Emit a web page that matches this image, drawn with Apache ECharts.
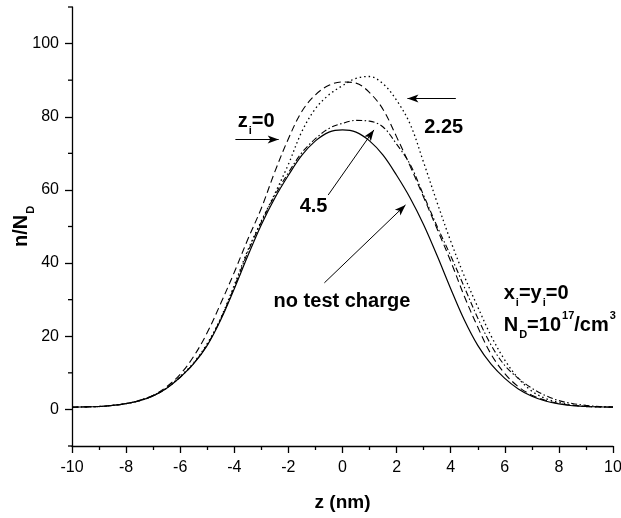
<!DOCTYPE html>
<html><head><meta charset="utf-8">
<script src="https://cdn.jsdelivr.net/npm/echarts@6/dist/echarts.min.js"></script>
<style>html,body{margin:0;padding:0;background:#fff}#c{width:621px;height:518px}</style>
</head><body><div id="c"></div>
<script>
// ---- data ----
const zValues = [-10,-9.5,-9,-8.5,-8,-7.5,-7,-6.5,-6,-5.5,-5,-4.5,-4,-3.5,-3,-2.5,-2,-1.5,-1,-0.5,0,0.5,1,1.5,2,2.5,3,3.5,4,4.5,5,5.5,6,6.5,7,7.5,8,8.5,9,9.5,10];
const noTestCharge = [0.6,0.7,0.8,1.1,1.6,2.4,3.7,5.8,8.8,12.5,17.5,24.5,33,42,50.5,57.8,64,69.5,73.4,75.8,76.4,75.8,73.4,69.5,64,57.8,50.5,42,33,24.5,17.5,12.3,8.5,5.6,3.6,2.3,1.5,1.0,0.8,0.7,0.6];
const zi0 = [0.6,0.7,0.8,1.1,1.6,2.5,3.9,6.2,9.6,14.5,21,29,37.5,46.5,55,65,74,81.5,86,88.6,89.5,89.2,86.6,82,74.5,66.5,58,49.3,40.5,31,22.5,15,9.8,6.2,3.9,2.5,1.6,1.1,0.8,0.7,0.6];
const zi225 = [0.6,0.7,0.8,1.1,1.6,2.4,3.8,5.9,9,12.8,18,25,34,43.5,51.5,59,67,76,82.2,86,88.5,90.5,91,89,84.5,78,67.5,56.5,46,36.5,28,20,13.5,8.5,5,3,1.9,1.2,0.8,0.7,0.6];
const zi45 = [0.6,0.7,0.8,1.1,1.6,2.4,3.7,5.8,8.8,12.6,17.7,24.8,33.5,43,51.2,58.5,64.7,70.2,74,76.8,78.2,79,78.8,77.2,72.5,67,58.5,50,42,33.5,25,17.5,12,8.5,5.8,3.8,2.4,1.6,1.1,0.8,0.7];

const xTickLabels = [-10,-8,-6,-4,-2,0,2,4,6,8,10];
const yTickLabels = [0,20,40,60,80,100];
const yMinorTicks = [-10,10,30,50,70,90,110];

// arrows: [start z, start n, end z, end n]
const arrows = [
  [-3.96,73.8,-2.36,73.8],
  [4.19,85.0,2.40,85.0],
  [-0.53,58.6,1.16,76.4],
  [-0.67,34.6,2.33,55.9]
];
// annotation texts: [z, n, text, anchor]
const notes = [
  [-3.19,78.8,'{b|z}{s|i}{b|=0}','center'],
  [3.74,77.0,'{b|2.25}','center'],
  [-1.07,55.6,'{b|4.5}','center'],
  [-0.02,29.4,'{b|no test charge}','center'],
  [5.96,31.6,'{b|x}{s|i}{b|=y}{s|i}{b|=0}','left'],
  [5.96,24.2,'{bp|N}{sp|D}{bp|=10}{p|17}{bp|/cm}{p|3}','left']
];

const FONT = '"Liberation Sans", Arial, Helvetica, sans-serif';
const base = {fontFamily: FONT, fontWeight: 'bold', color: '#000'};
const rich = {
  b: Object.assign({fontSize: 20, lineHeight: 20, verticalAlign: 'top'}, base),
  s: Object.assign({fontSize: 11, lineHeight: 12, padding: [14,0,0,1], verticalAlign: 'top'}, base),
  bp: Object.assign({fontSize: 20, lineHeight: 20, padding: [5,0,0,0], verticalAlign: 'top'}, base),
  sp: Object.assign({fontSize: 11, lineHeight: 12, padding: [19,0,0,1], verticalAlign: 'top'}, base),
  p: Object.assign({fontSize: 11, lineHeight: 12, padding: [0,0,0,1], verticalAlign: 'top'}, base)
};

function pairs(ys){ return zValues.map((z,i)=>[z, ys[i]]); }

const chart = echarts.init(document.getElementById('c'), null, {renderer:'canvas'});

function lineSeries(name, ys, type, width){
  return {
    name, type: 'line', data: pairs(ys), showSymbol: false, smooth: 0.35,
    silent: true, animation: false,
    lineStyle: {color: '#000', width: width, type: type}
  };
}

const main = lineSeries('no test charge', noTestCharge, 'solid', 1.2);
main.markLine = {
  silent: true, animation: false,
  symbol: ['none','arrow'],
  lineStyle: {color:'#000', width: 1, type: 'solid'},
  label: {show: false},
  emphasis: {disabled: true},
  data: arrows.map(a => [
    {coord: [a[0], a[1]], symbol: 'none'},
    {coord: [a[2], a[3]], symbol: 'arrow', symbolSize: [6, 11]}
  ])
};
main.markPoint = {
  silent: true, animation: false,
  symbol: 'circle', symbolSize: 0,
  itemStyle: {color: 'rgba(0,0,0,0)'},
  data: notes.map(n => ({
    coord: [n[0], n[1]],
    label: {show: true, formatter: n[2], rich: rich,
      position: n[3] === 'left' ? 'right' : 'inside', distance: 0}
  }))
};

// minor ticks of the y axis (odd tens), drawn at the axis through the axis scale
const minorTickSeries = {
  type: 'custom', silent: true, animation: false, clip: false, z: 10,
  data: yMinorTicks.map(v => [-10, v]),
  renderItem: function (params, api) {
    const p = api.coord([api.value(0), api.value(1)]);
    return {type: 'line', shape: {x1: p[0] - 4, y1: p[1], x2: p[0], y2: p[1]},
      style: {stroke: '#000', lineWidth: 1.3}};
  }
};

const axisLabelStyle = {color: '#000', fontSize: 16, fontFamily: FONT};

chart.setOption({
  animation: false,
  backgroundColor: '#fff',
  grid: {left: 72, right: 8, top: 7, bottom: 72, containLabel: false, outerBoundsMode: 'none'},
  xAxis: {
    type: 'value', min: -10, max: 10, interval: 2, position: 'bottom',
    axisLine: {show: true, onZero: false, lineStyle: {color: '#000', width: 1.3}},
    axisTick: {show: true, length: 7, lineStyle: {color: '#000', width: 1.3}},
    minorTick: {show: true, splitNumber: 2, length: 4, lineStyle: {color: '#000', width: 1.3}},
    splitLine: {show: false},
    axisLabel: Object.assign({margin: 14, formatter: v => xTickLabels.includes(v) ? String(v) : ''}, axisLabelStyle),
    name: 'z (nm)', nameLocation: 'middle', nameGap: 47, nameMoveOverlap: false,
    nameTextStyle: {fontSize: 19, fontWeight: 'bold', fontFamily: FONT, color: '#000'}
  },
  yAxis: {
    type: 'value', min: -10, max: 110, interval: 10, position: 'left', offset: 0,
    axisLine: {show: true, onZero: false, lineStyle: {color: '#000', width: 1.3}},
    axisTick: {show: true, length: 7, customValues: yTickLabels, lineStyle: {color: '#000', width: 1.3}},
    splitLine: {show: false},
    axisLabel: Object.assign({margin: 13, customValues: yTickLabels}, axisLabelStyle),
    name: '{b|n/N}{s|D}', nameLocation: 'middle', nameRotate: 90, nameGap: 41, nameMoveOverlap: false,
    nameTextStyle: {rich: rich}
  },
  series: [
    main,
    lineSeries('z_i=0', zi0, [7,4], 1.1),
    lineSeries('2.25', zi225, [1.5,3], 1.3),
    lineSeries('4.5', zi45, [6,2.5,1.5,2.5], 1.1),
    minorTickSeries
  ]
});
</script>
</body></html>
